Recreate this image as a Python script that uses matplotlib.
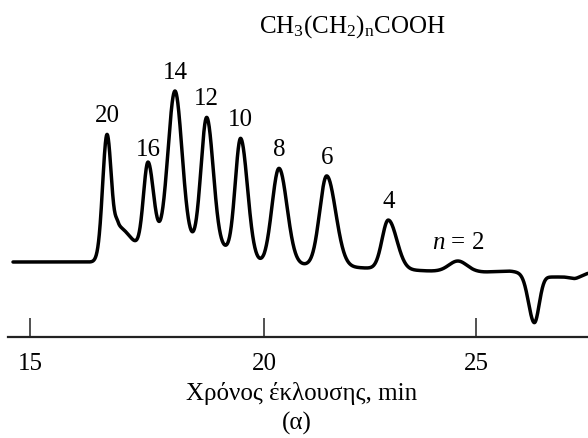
import numpy as np
import matplotlib
matplotlib.use("Agg")
import matplotlib.pyplot as plt

# ---------------- data ----------------
peak_labels = ["20", "16", "14", "12", "10", "8", "6", "4", "$n$ = 2"]
peak_times = [16.645, 17.521, 18.098, 18.776, 19.502, 20.354, 21.479, 22.932, 24.575]   # min
peak_heights = [121, 84, 153, 129, 117, 96, 90, 49, 10.5]                                # signal
peak_sigma_left = [0.092, 0.096, 0.150, 0.122, 0.115, 0.165, 0.165, 0.146, 0.212]
peak_sigma_right = [0.096, 0.118, 0.150, 0.139, 0.145, 0.189, 0.212, 0.200, 0.212]

# unlabelled features: tailing shoulder after n=20, negative system peak
extra_times = [16.880, 26.375]
extra_heights = [25, -48]
extra_sigma_left = [0.064, 0.135]
extra_sigma_right = [0.241, 0.115]

# drifting baseline (min, signal)
baseline_times = [14.637, 16.346, 16.709, 17.244, 17.778, 18.419, 19.167, 19.957,
                  21.085, 22.382, 23.915, 25.212, 25.802, 26.745, 27.099, 27.335, 27.642]
baseline_levels = [0, 0, 8, 12, 18, 18, 13, -2, -3, -6, -9, -10, -9, -15, -15, -17, -11]

tick_values = [15, 20, 25]
tick_labels = ["15", "20", "25"]

# ---------------- figure ----------------
plt.rcParams["font.family"] = ["Liberation Serif", "DejaVu Serif"]
plt.rcParams["mathtext.fontset"] = "custom"
plt.rcParams["mathtext.rm"] = "Liberation Serif"
plt.rcParams["mathtext.it"] = "Liberation Serif:italic"

FS = 18

fig = plt.figure(figsize=(5.88, 4.39), dpi=100)
ax = fig.add_axes([8 / 588, 1 - 338 / 439, 580 / 588, 338 / 439])

# uneven axis calibration of the original plot
knots_t = [0.0, 15.0, 20.0, 60.0]
knots_u = [30 - 15 * 46.8, 30.0, 264.0, 264 + 40 * 42.4]


def fwd(t):
    return np.interp(t, knots_t, knots_u)


def inv(u):
    return np.interp(u, knots_u, knots_t)


ax.set_xscale("function", functions=(fwd, inv))

t = np.linspace(baseline_times[0], baseline_times[-1], 4000)


def component(tc, h, sl, sr):
    s = np.where(t < tc, sl, sr)
    return h * np.exp(-0.5 * ((t - tc) / s) ** 2)


bg = np.interp(t, baseline_times, baseline_levels)
dt = t[1] - t[0]
ks = 0.05 / dt
kx = np.arange(-int(4 * ks), int(4 * ks) + 1)
kern = np.exp(-0.5 * (kx / ks) ** 2)
kern /= kern.sum()
bgp = np.pad(bg, len(kx) // 2, mode="edge")
bg = np.convolve(bgp, kern, mode="valid")

signal = bg.copy()
for tc, h, sl, sr in zip(peak_times, peak_heights, peak_sigma_left, peak_sigma_right):
    signal += component(tc, h, sl, sr)
for tc, h, sl, sr in zip(extra_times, extra_heights, extra_sigma_left, extra_sigma_right):
    signal += component(tc, h, sl, sr)

ax.plot(t, signal, color="black", lw=2.5, solid_capstyle="round")

for lab, tc in zip(peak_labels, peak_times):
    yv = np.interp(tc, t, signal)
    off = 9.5 if lab == "16" else 13.8
    ax.annotate(lab, (tc, yv), xytext=(0, off), textcoords="offset points",
                ha="center", va="center", fontsize=FS)

ax.set_xlim(14.53, 27.642)
ax.set_ylim(-75, 263)
for s in ["left", "right", "top"]:
    ax.spines[s].set_visible(False)
ax.spines["bottom"].set_linewidth(1.6)
ax.spines["bottom"].set_color("#222222")
ax.set_yticks([])
ax.set_xticks(tick_values)
ax.set_xticklabels(tick_labels)
ax.xaxis.set_minor_locator(matplotlib.ticker.NullLocator())
ax.tick_params(axis="x", direction="in", length=13.7, width=1.1, color="#222222",
               pad=11, labelsize=FS)
ax.patch.set_visible(False)

fig.text(302 / 588, 1 - 394 / 439, "Χρόνος έκλουσης, min", ha="center", va="center",
         fontsize=FS)
fig.text(297 / 588, 1 - 423 / 439, "(α)", ha="center", va="center", fontsize=FS)
fig.text(352 / 588, 1 - 27 / 439, r"CH$_3$(CH$_2$)$_\mathrm{n}$COOH", ha="center",
         va="center", fontsize=FS)

fig.savefig("out.png", dpi=100)
